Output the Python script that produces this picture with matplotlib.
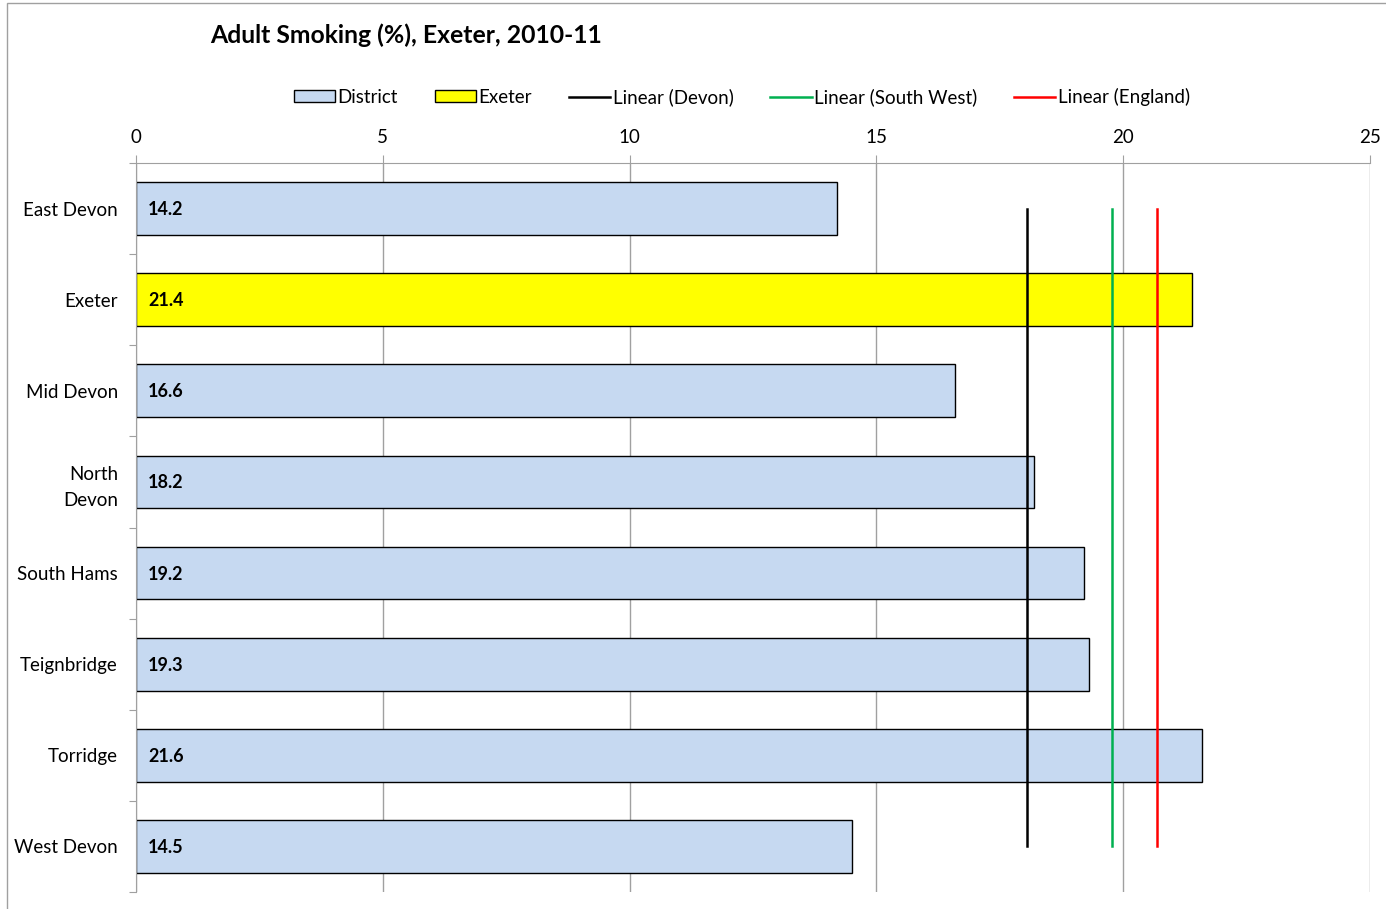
import numpy as np
import matplotlib.pyplot as plt
from matplotlib.patches import Patch, Rectangle
from matplotlib.lines import Line2D

plt.rcParams['font.family'] = ['Lato', 'DejaVu Sans']

districts = ['East Devon', 'Exeter', 'Mid Devon', 'North\nDevon', 'South Hams',
             'Teignbridge', 'Torridge', 'West Devon']
smoking = [14.2, 21.4, 16.6, 18.2, 19.2, 19.3, 21.6, 14.5]
highlight = 'Exeter'

devon = 18.05
south_west = 19.77
england = 20.68

blue = '#C6D9F1'
yellow = '#FFFF00'

fig = plt.figure(figsize=(13.86, 9.09), dpi=100)
ax = fig.add_axes([136/1386, 1-892/909, (1370-136)/1386, (892-163)/909])

y = np.arange(len(districts))
colors = [yellow if d == highlight else blue for d in districts]
ax.barh(y, smoking, height=0.58, color=colors, edgecolor='black', linewidth=1.0, zorder=2)

for i, v in enumerate(smoking):
    ax.annotate(f'{v:.1f}', xy=(0, i), xytext=(12, -1), textcoords='offset pixels',
                va='center', ha='left', fontsize=13, fontweight='bold', zorder=4)

# reference lines across the districts
ax.plot([devon, devon], [0, len(districts)-1], color='black', lw=1.8, zorder=3)
ax.plot([south_west, south_west], [0, len(districts)-1], color='#00B050', lw=1.8, zorder=3)
ax.plot([england, england], [0, len(districts)-1], color='#FF0000', lw=1.8, zorder=3)

ax.set_xlim(0, 25)
ax.set_ylim(len(districts)-0.5, -0.5)
ax.xaxis.tick_top()
ax.set_xticks([0, 5, 10, 15, 20, 25])
ax.tick_params(axis='x', direction='out', length=6, color='#A0A0A0', labelsize=13.5, pad=6)
ax.grid(axis='x', color='#A0A0A0', lw=1.0, zorder=0)
ax.set_axisbelow(True)

ax.set_yticks(np.arange(-0.5, len(districts)), labels=[])
ax.set_yticks(y, labels=districts, minor=True)
ax.tick_params(axis='y', which='major', direction='out', length=5, color='#A0A0A0')
ax.tick_params(axis='y', which='minor', length=0, labelsize=13.5, pad=13)
for lab in ax.get_yticklabels(minor=True):
    lab.set_multialignment('right')
    lab.set_linespacing(1.6)

for side in ['bottom', 'right']:
    ax.spines[side].set_visible(False)
for side in ['top', 'left']:
    ax.spines[side].set_color('#A0A0A0')

fig.text(210/1386, 1-35/909, 'Adult Smoking (%), Exeter, 2010-11', fontsize=17.8,
         fontweight='bold', va='center', ha='left')

handles = [Patch(facecolor=blue, edgecolor='black', lw=1.0),
           Patch(facecolor=yellow, edgecolor='black', lw=1.0),
           Line2D([], [], color='black', lw=1.8),
           Line2D([], [], color='#00B050', lw=1.8),
           Line2D([], [], color='#FF0000', lw=1.8)]
labels = ['District', 'Exeter', 'Linear (Devon)', 'Linear (South West)', 'Linear (England)']
fig.legend(handles, labels, loc='center', bbox_to_anchor=(742/1386, 1-97/909), ncol=5,
           frameon=False, fontsize=13.5, handlelength=2.2, handleheight=0.6,
           handletextpad=0.15, columnspacing=1.95)

fig.patches.append(Rectangle((7/1386, -0.05), 1.1, 1-3/909+0.05, transform=fig.transFigure,
                             fill=False, edgecolor='#A0A0A0', lw=1.0))

fig.savefig('out.png', dpi=100)
